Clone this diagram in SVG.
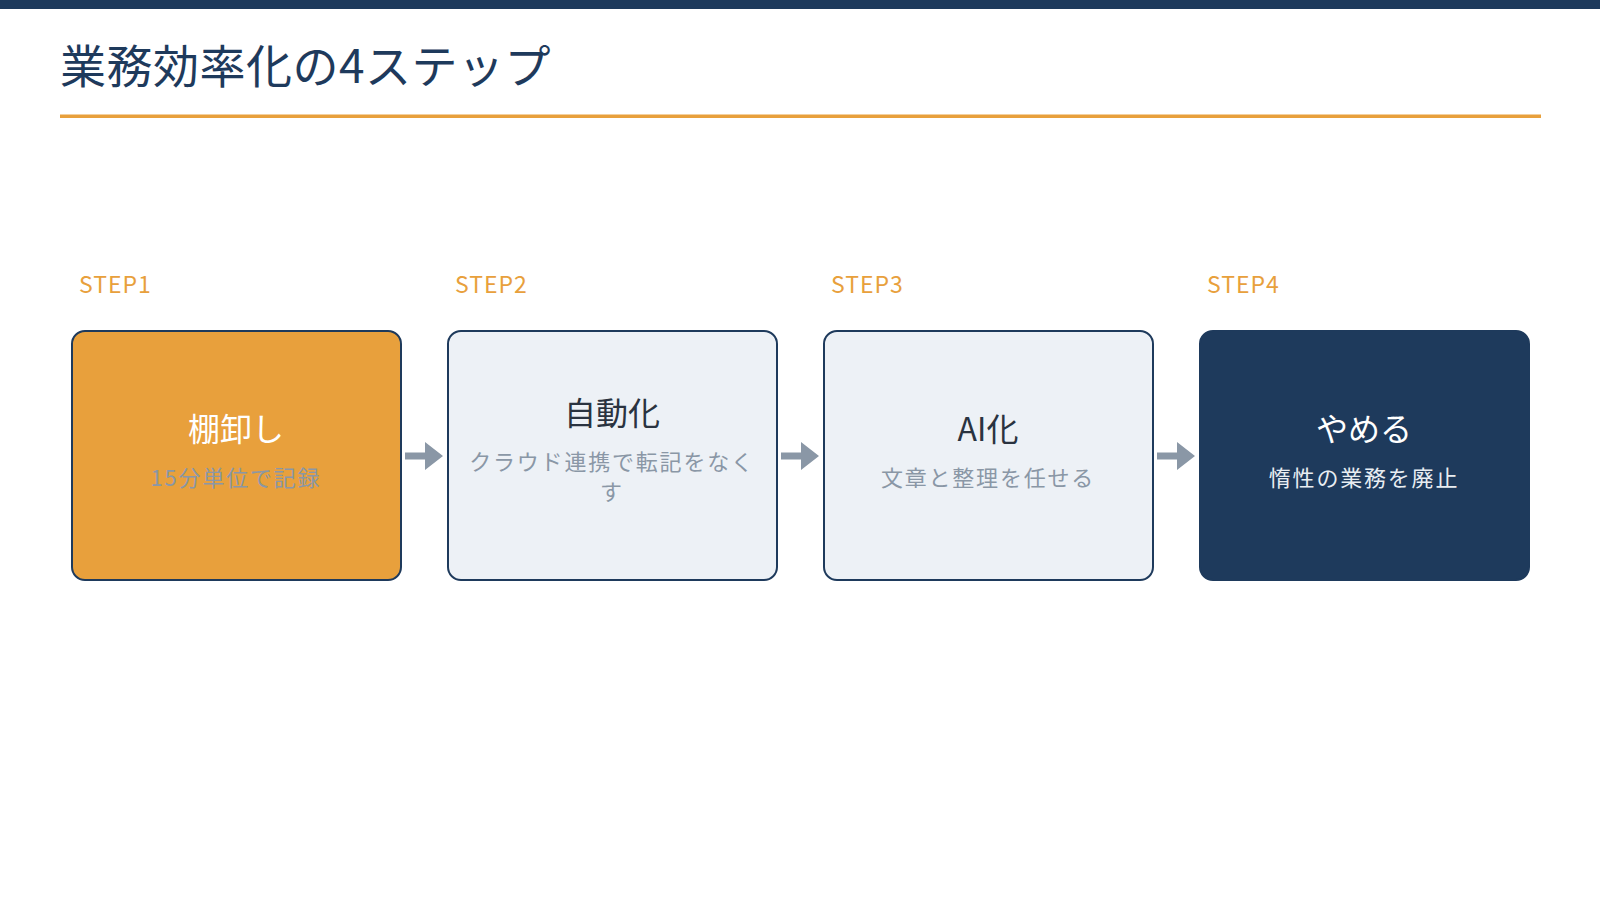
<svg xmlns="http://www.w3.org/2000/svg" width="1600" height="900" viewBox="0 0 1600 900">
<style>
  text { font-family: "Noto Sans CJK JP", "Noto Sans", sans-serif; }
  .step { fill: #e8a03c; font-size: 23px; letter-spacing: 1px; }
  .box { stroke: #1e3a5c; stroke-width: 2; }
  .light { fill: #edf1f6; }
  .ttl { font-size: 32px; text-anchor: middle; }
  .sub { font-size: 22px; text-anchor: middle; letter-spacing: 1.8px; }
  .arrow { fill: #8a97a6; }
</style>
<rect x="0" y="0" width="1600" height="9" fill="#1e3a5c"/>
<text x="60" y="83" font-size="46" letter-spacing="0.5" fill="#1e3a5c">業務効率化の4ステップ</text>
<rect x="60" y="114.5" width="1481" height="3.5" fill="#e8a03c"/>

<g id="step1">
  <text class="step" x="79" y="293">STEP1</text>
  <rect class="box" x="72" y="331" width="329" height="249" rx="13" fill="#e8a03c"/>
  <text class="ttl" x="236" y="441" fill="#ffffff">棚卸し</text>
  <text class="sub" x="236" y="486" fill="#8a97a6">15分単位で記録</text>
</g>
<g id="step2">
  <text class="step" x="455" y="293">STEP2</text>
  <rect class="box light" x="448" y="331" width="329" height="249" rx="13"/>
  <text class="ttl" x="612" y="425" fill="#2a3340">自動化</text>
  <text class="sub" x="612" y="470" fill="#8a97a6">クラウド連携で転記をなく</text>
  <text class="sub" x="612" y="500" fill="#8a97a6">す</text>
</g>
<g id="step3">
  <text class="step" x="831" y="293">STEP3</text>
  <rect class="box light" x="824" y="331" width="329" height="249" rx="13"/>
  <text class="ttl" x="988" y="441" fill="#2a3340">AI化</text>
  <text class="sub" x="988" y="486" fill="#8a97a6">文章と整理を任せる</text>
</g>
<g id="step4">
  <text class="step" x="1207" y="293">STEP4</text>
  <rect class="box" x="1200" y="331" width="329" height="249" rx="13" fill="#1e3a5c"/>
  <text class="ttl" x="1364" y="441" fill="#ffffff">やめる</text>
  <text class="sub" x="1364" y="486" fill="#e8edf2">惰性の業務を廃止</text>
</g>
<g id="connectors">
  <path class="arrow" d="M405,452.5 H425 V442 L443,456 L425,470 V459.5 H405 Z"/>
  <path class="arrow" d="M781,452.5 H801 V442 L819,456 L801,470 V459.5 H781 Z"/>
  <path class="arrow" d="M1157,452.5 H1177 V442 L1195,456 L1177,470 V459.5 H1157 Z"/>
</g>
</svg>
